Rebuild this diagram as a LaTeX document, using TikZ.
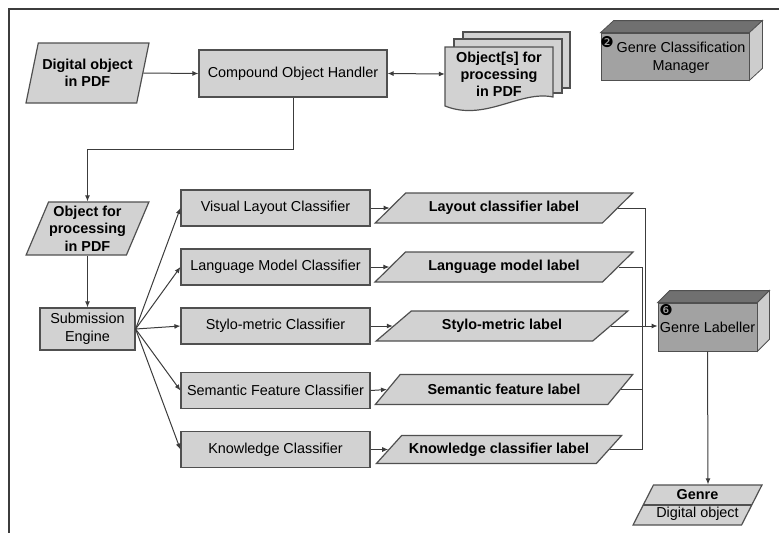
\documentclass[tikz,border=0pt]{standalone}
\usepackage{fontspec}
\setmainfont{Liberation Sans}
\newfontfamily\dingfont{DejaVu Sans}
\usetikzlibrary{arrows, arrows.meta}
\usetikzlibrary{calc}
\usetikzlibrary{shapes.geometric}

\definecolor{edgegray}{HTML}{505050}
\definecolor{linegray}{HTML}{3C3C3C}
\definecolor{boxgray}{HTML}{D2D2D2}
\definecolor{cubefront}{HTML}{A2A2A2}
\definecolor{cubetop}{HTML}{707070}
\definecolor{cubeside}{HTML}{CDCDCD}

\tikzset{
  txt/.style={font=\fontsize{14.4}{17.5}\selectfont},
  procbox/.style={txt, draw=edgegray, fill=boxgray, line width=1.2pt, inner sep=0pt, align=center},
  databox/.style={font=\fontsize{14.4}{17.5}\selectfont\bfseries, trapezium, trapezium stretches=true, draw=edgegray, fill=boxgray, line width=1.2pt, inner sep=0pt, align=center},
  labelbox/.style={databox, trapezium left angle=30, trapezium right angle=150, minimum width=258pt, minimum height=30pt},
  sheet/.style={draw=edgegray, fill=boxgray, line width=1.2pt},
  cubebox/.style={txt, draw=edgegray, fill=cubefront, line width=0.8pt, inner sep=0pt, align=center},
  numdot/.style={font=\dingfont\fontsize{15}{15}\selectfont, inner sep=0pt},
  conn/.style={draw=linegray, line width=1pt},
  arr/.style={conn, -{Latex[length=6pt,width=5pt]}},
}

\begin{document}
\begin{tikzpicture}[x=1pt, y=-1pt]
    \useasboundingbox (0,0) rectangle (779,533);
    \draw[draw=linegray, line width=2pt] (779,9) -- (9,9) -- (9,533);

    \node[databox, trapezium left angle=68, trapezium right angle=112, minimum width=123pt, minimum height=60pt] (dig) at (87.5,73) {Digital object\\in PDF};
    \node[procbox, minimum width=188pt, minimum height=47pt] (coh) at (293,73.5) {Compound Object Handler};

    \filldraw[sheet] (463,32) rectangle (570,88);
    \filldraw[sheet] (454,39) rectangle (562,93);
    \filldraw[sheet] (445,47) -- (553,47) -- (553,97) .. controls (520,90) and (485,122) .. (445,106) -- cycle;
    \node[font=\fontsize{14.4}{17}\selectfont\bfseries, align=center, inner sep=0pt, minimum width=108pt, minimum height=54pt] (objs) at (499,74) {Object[s] for\\processing\\in PDF};

    \node[cubebox, minimum width=148pt, minimum height=47pt] (gcm) at (675,56.5) {};
    \filldraw[draw=edgegray, fill=cubetop, line width=0.8pt] (gcm.north west) -- ++(13,-12) -- ($(gcm.north east)+(13,-12)$) -- (gcm.north east) -- cycle;
    \filldraw[draw=edgegray, fill=cubeside, line width=0.8pt] (gcm.north east) -- ++(13,-12) -- ($(gcm.south east)+(13,-12)$) -- (gcm.south east) -- cycle;
    \node[txt, align=center, inner sep=0pt] (gcmtxt) at (681,58) {Genre Classification\\Manager};
    \node[numdot] (gcmnum) at (607,42) {❷};

    \node[databox, trapezium left angle=64, trapezium right angle=116, minimum width=123pt, minimum height=53pt] (obj) at (87.5,228.5) {Object for\\processing\\in PDF};
    \node[procbox, minimum width=95pt, minimum height=42pt] (sub) at (87.5,329) {Submission\\Engine};

    \node[procbox, minimum width=189pt, minimum height=36pt] (vis) at (275.5,208) {Visual Layout Classifier};
    \node[procbox, minimum width=189pt, minimum height=36pt] (lang) at (275.5,267) {Language Model Classifier};
    \node[procbox, minimum width=189pt, minimum height=36pt] (sty) at (275.5,326) {Stylo-metric Classifier};
    \node[procbox, minimum width=189pt, minimum height=36pt] (sem) at (275.5,390.5) {Semantic Feature Classifier};
    \node[procbox, minimum width=189pt, minimum height=36pt] (know) at (275.5,449.5) {Knowledge Classifier};

    \node[labelbox] (visl) at (504,208) {Layout classifier label};
    \node[labelbox] (langl) at (504,267) {Language model label};
    \node[labelbox, minimum width=252pt] (styl) at (502,326) {Stylo-metric label};
    \node[labelbox] (seml) at (504,389.5) {Semantic feature label};
    \node[labelbox, minimum width=246pt, minimum height=28pt] (knowl) at (499,449.5) {Knowledge classifier label};

    \node[cubebox, minimum width=99pt, minimum height=48pt, text depth=0pt, yshift=0pt] (gl) at (707.5,327) {Genre Labeller};
    \filldraw[draw=edgegray, fill=cubetop, line width=0.8pt] (gl.north west) -- ++(12,-12) -- ($(gl.north east)+(12,-12)$) -- (gl.north east) -- cycle;
    \filldraw[draw=edgegray, fill=cubeside, line width=0.8pt] (gl.north east) -- ++(12,-12) -- ($(gl.south east)+(12,-12)$) -- (gl.south east) -- cycle;
    \node[numdot] (glnum) at (666,310) {❻};

    \node[databox, trapezium left angle=58, trapezium right angle=122, minimum width=129pt, minimum height=40pt] (gdo) at (697.5,505) {Genre\\\mdseries Digital object};
    \draw[draw=edgegray, line width=1.2pt] (gdo.left side) -- (gdo.right side);

    \coordinate (busa) at (645,327);
    \coordinate (busb) at (642,327);

    \draw[arr] (dig.right side) -- (coh.west);
    \draw[conn, {Latex[length=6pt,width=5pt]}-{Latex[length=6pt,width=5pt]}] (coh.east) -- (objs.west);
    \draw[arr] (coh.south) -- ++(0,52) -| (obj.center |- obj.top side);
    \draw[arr] (obj.center |- obj.bottom side) -- (sub.north);

    \draw[arr] (sub.east) -- (vis.west);
    \draw[arr] (sub.east) -- (lang.west);
    \draw[arr] (sub.east) -- (sty.west);
    \draw[arr] (sub.east) -- (sem.west);
    \draw[arr] (sub.east) -- (know.west);

    \draw[arr] (vis.east) -- (visl.left side);
    \draw[arr] (lang.east) -- (langl.left side);
    \draw[arr] (sty.east) -- (styl.left side);
    \draw[arr] (sem.east) -- (seml.left side);
    \draw[arr] (know.east) -- (knowl.left side);

    \draw[conn] (visl.right side) -| (busa);
    \draw[conn] (langl.right side) -| (busb);
    \draw[conn] (seml.right side) -| (busb);
    \draw[conn] (knowl.right side) -| (busb);
    \draw[arr] (styl.right side) -- (styl.right side -| gl.west);

    \draw[arr] (gl.south) -- (gdo.top side);
\end{tikzpicture}
\end{document}
